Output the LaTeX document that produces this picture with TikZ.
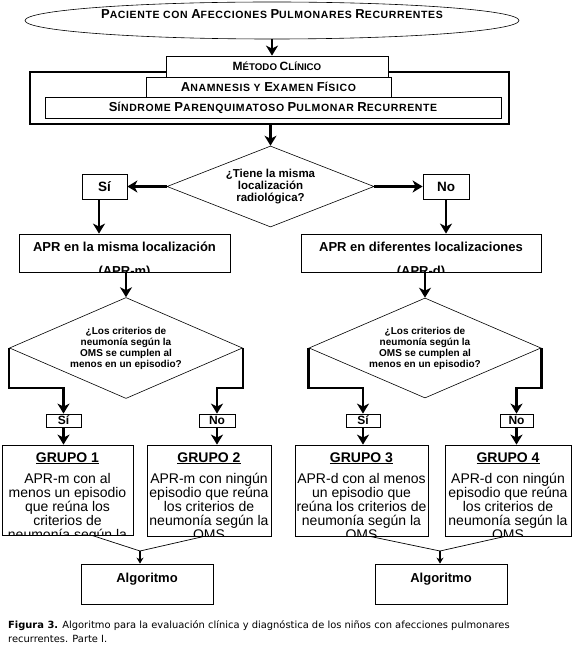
\documentclass[tikz,border=0pt]{standalone}
\usepackage{fontspec}
\setmainfont{Liberation Sans}
\newfontfamily\spacedfont[LetterSpace=6]{Liberation Sans}
\newfontfamily\captionfont{DejaVu Sans}
\usetikzlibrary{arrows.meta,positioning,shapes.geometric}

% capital + reduced capitals, as in the headings of the chart
\newcommand{\scword}[2]{{\fontsize{13}{15}\selectfont #1}{\fontsize{10.5}{15}\selectfont #2}}
\newcommand{\scsmall}[2]{{\fontsize{12}{15}\selectfont #1}{\fontsize{9.7}{15}\selectfont #2}}

\begin{document}
\begin{tikzpicture}[
			x=1pt, y=-1pt,
			>={Stealth[length=10pt,width=12pt,inset=3pt]},
			flow/.style={->, line width=2.5pt},
			mergeflow/.style={-{Stealth[length=6pt,width=7pt,inset=2pt]}, line width=1.6pt},
			merge/.style={line width=0.7pt},
			methodbox/.style={
				draw,
				line width=0.8pt,
				fill=white,
				inner sep=0pt,
				font=\spacedfont\bfseries\fontsize{10.5}{15}\selectfont
			},
			decision/.style={
				diamond,
				draw,
				line width=0.6pt,
				inner sep=0pt,
				align=center,
				font=\bfseries\fontsize{10}{11}\selectfont
			},
			answer/.style={
				draw,
				line width=0.8pt,
				inner sep=0pt,
				minimum height=25pt,
				font=\bfseries\fontsize{13.5}{15}\selectfont
			},
			smallanswer/.style={
				draw,
				line width=0.8pt,
				inner sep=0pt,
				minimum height=13pt,
				font=\bfseries\fontsize{12}{12}\selectfont
			},
			plainbox/.style={
				draw,
				line width=0.8pt,
				inner sep=0pt
			},
			aprtext/.style={
				anchor=north,
				align=center,
				inner sep=0pt,
				font=\bfseries\fontsize{13}{24}\selectfont
			},
			grouptext/.style={
				anchor=north,
				align=center,
				inner sep=0pt,
				font=\fontsize{14}{14}\selectfont
			}
			]
			\useasboundingbox (0,0) rectangle (573,652);
			
			% top of the chart
			\node[ellipse,draw,line width=0.6pt,inner sep=0pt,
				minimum width=494pt,minimum height=37pt,
				text height=9pt,text depth=12.5pt,
				font=\spacedfont\bfseries\fontsize{10.5}{15}\selectfont] (patient) at (272,20.5)
			{\scword{P}{ACIENTE} \scword{}{CON} \scword{A}{FECCIONES} \scword{P}{ULMONARES} \scword{R}{ECURRENTES}};
			
			\node[draw,line width=2.5pt,minimum width=479pt,minimum height=52pt] (clinic) at (269.5,98) {};
			\node[methodbox,minimum width=222pt,minimum height=21pt,
				font=\bfseries\fontsize{9.7}{15}\selectfont] (method) at (277,66.5)
			{\scsmall{M}{ÉTODO} \scsmall{C}{LÍNICO}};
			\node[methodbox,minimum width=245pt,minimum height=20pt] (anamnesis) at (268.5,87)
			{\scword{A}{NAMNESIS} \scword{}{Y} \scword{E}{XAMEN} \scword{F}{ÍSICO}};
			\node[methodbox,minimum width=456pt,minimum height=21pt] (syndrome) at (273,107.5)
			{\scword{S}{ÍNDROME} \scword{P}{ARENQUIMATOSO} \scword{P}{ULMONAR} \scword{R}{ECURRENTE}};
			
			\draw[flow] (patient.south) -- (patient.south |- method.north);
			
			% first question
			\node[decision,aspect=2.5,minimum width=207pt,minimum height=81pt,
				font=\bfseries\fontsize{11.5}{12}\selectfont] (q1) at (270.5,186.5)
			{¿Tiene la misma\\localización\\radiológica?};
			\node[answer,minimum width=45pt] (yes1) at (104.5,186.5) {Sí};
			\node[answer,minimum width=46pt] (no1) at (446,186.5) {No};
			
			\draw[flow] (q1.north |- clinic.south) -- (q1.north);
			\draw[flow] (q1.west) -- (yes1.east);
			\draw[flow] (q1.east) -- (no1.west);
			
			\node[plainbox,minimum width=211pt,minimum height=38pt] (aprm) at (124.5,253) {};
			\node[plainbox,minimum width=240pt,minimum height=38pt] (aprd) at (421,253) {};
			\begin{scope}
				\clip (aprm.south west) rectangle (aprm.north east);
				\node[aprtext] (aprmtext) at ([yshift=-8.5pt]aprm.north) {APR en la misma localización\\(APR-m)};
			\end{scope}
			\begin{scope}
				\clip (aprd.south west) rectangle (aprd.north east);
				\node[aprtext] (aprdtext) at ([yshift=-8.5pt]aprd.north) {APR en diferentes localizaciones\\(APR-d)};
			\end{scope}
			
			\draw[flow] ([xshift=-5.5pt]yes1.south) -- ([xshift=-5.5pt]yes1.south |- aprm.north);
			\draw[flow] (no1.south) -- (no1.south |- aprd.north);
			
			% second questions
			\node[decision,aspect=2.3,minimum width=233pt,minimum height=101pt] (qL) at (126,348)
			{¿Los criterios de\\neumonía según la\\OMS se cumplen al\\menos en un episodio?};
			\node[decision,aspect=2.3,minimum width=232pt,minimum height=100pt] (qR) at (425,348)
			{¿Los criterios de\\neumonía según la\\OMS se cumplen al\\menos en un episodio?};
			
			\draw[flow] (qL.north |- aprm.south) -- (qL.north);
			\draw[flow] (qR.north |- aprd.south) -- (qR.north);
			
			\node[smallanswer,minimum width=35pt] (yesL) at (63.5,420.5) {Sí};
			\node[smallanswer,minimum width=36pt] (noL) at (217,420.5) {No};
			\node[smallanswer,minimum width=34pt] (yesR) at (363,420.5) {Sí};
			\node[smallanswer,minimum width=33pt] (noR) at (516.5,420.5) {No};
			
			\draw[flow] (qL.west) -- ++(0,40) -| (yesL.north);
			\draw[flow] (qL.east) -- ++(0,40) -| (noL.north);
			\draw[flow] (qR.west) -- ++(0,40) -| (yesR.north);
			\draw[flow] (qR.east) -- ++(0,40) -| (noR.north);
			
			% the four groups
			\node[plainbox,minimum width=131pt,minimum height=90pt] (g1) at (67.5,490) {};
			\node[plainbox,minimum width=124pt,minimum height=91pt] (g2) at (209,490.5) {};
			\node[plainbox,minimum width=133pt,minimum height=91pt] (g3) at (361.5,490.5) {};
			\node[plainbox,minimum width=126pt,minimum height=91pt] (g4) at (508,490.5) {};
			
			\begin{scope}
				\clip (g1.south west) rectangle (g1.north east);
				\node[grouptext] (g1text) at ([yshift=-7.5pt]g1.north)
				{\textbf{\underline{GRUPO 1}}\\[7pt]APR-m con al\\menos un episodio\\que reúna los\\criterios de\\neumonía según la\\OMS};
			\end{scope}
			\begin{scope}
				\clip (g2.south west) rectangle (g2.north east);
				\node[grouptext] (g2text) at ([yshift=-7.5pt]g2.north)
				{\textbf{\underline{GRUPO 2}}\\[7pt]APR-m con ningún\\episodio que reúna\\los criterios de\\neumonía según la\\OMS};
			\end{scope}
			\begin{scope}
				\clip (g3.south west) rectangle (g3.north east);
				\node[grouptext] (g3text) at ([yshift=-7.5pt]g3.north)
				{\textbf{\underline{GRUPO 3}}\\[7pt]APR-d con al menos\\un episodio que\\reúna los criterios de\\neumonía según la\\OMS};
			\end{scope}
			\begin{scope}
				\clip (g4.south west) rectangle (g4.north east);
				\node[grouptext] (g4text) at ([yshift=-7.5pt]g4.north)
				{\textbf{\underline{GRUPO 4}}\\[7pt]APR-d con ningún\\episodio que reúna\\los criterios de\\neumonía según la\\OMS};
			\end{scope}
			
			\draw[flow] (yesL.south) -- (yesL.south |- g1.north);
			\draw[flow] (noL.south) -- (noL.south |- g2.north);
			\draw[flow] (yesR.south) -- (yesR.south |- g3.north);
			\draw[flow] (noR.south) -- (noR.south |- g4.north);
			
			% towards the next algorithms
			\node[plainbox,minimum width=132pt,minimum height=40pt,
				text height=10pt,text depth=14pt,
				font=\bfseries\fontsize{13}{15}\selectfont] (algL) at (147,584) {Algoritmo};
			\node[plainbox,minimum width=132pt,minimum height=40pt,
				text height=10pt,text depth=14pt,
				font=\bfseries\fontsize{13}{15}\selectfont] (algR) at (441,584) {Algoritmo};
			
			\coordinate (mergeL) at (140,551);
			\coordinate (mergeR) at (440,551);
			\draw[merge] ([xshift=24.5pt]g1.south) -- (mergeL);
			\draw[merge] ([xshift=-5pt]g2.south) -- (mergeL);
			\draw[merge] ([xshift=8.5pt]g3.south) -- (mergeR);
			\draw[merge] ([xshift=-3pt]g4.south) -- (mergeR);
			\draw[mergeflow] (mergeL) -- (mergeL |- algL.north);
			\draw[mergeflow] (mergeR) -- (mergeR |- algR.north);
			
			\node[anchor=north west,align=left,inner sep=0pt,
				font=\captionfont\fontsize{9.9}{14}\selectfont] (caption) at (8,620.5)
			{\textbf{Figura 3.} Algoritmo para la evaluación clínica y diagnóstica de los niños con afecciones pulmonares\\recurrentes. Parte I.};
			
		\end{tikzpicture}
\end{document}
